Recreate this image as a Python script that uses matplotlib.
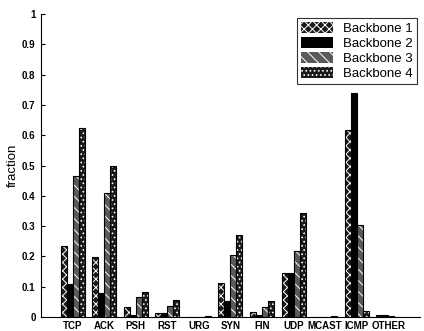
import numpy as np
import matplotlib
matplotlib.use("Agg")
import matplotlib.pyplot as plt

categories = ["TCP", "ACK", "PSH", "RST", "URG", "SYN", "FIN", "UDP", "MCAST", "ICMP", "OTHER"]
backbone1 = [0.234, 0.199, 0.034, 0.014, 0.000, 0.111, 0.016, 0.144, 0.000, 0.617, 0.008]
backbone2 = [0.108, 0.078, 0.008, 0.012, 0.000, 0.054, 0.008, 0.146, 0.000, 0.738, 0.006]
backbone3 = [0.465, 0.410, 0.065, 0.036, 0.000, 0.205, 0.034, 0.219, 0.000, 0.304, 0.002]
backbone4 = [0.625, 0.500, 0.083, 0.056, 0.003, 0.270, 0.053, 0.342, 0.002, 0.021, 0.000]
series_names = ["Backbone 1", "Backbone 2", "Backbone 3", "Backbone 4"]

plt.rcParams["font.family"] = ["Liberation Sans", "DejaVu Sans"]
plt.rcParams["hatch.linewidth"] = 0.7

fig = plt.figure(figsize=(4.24, 3.31), dpi=100)
ax = fig.add_axes([0.097, 0.042, 0.893, 0.916])

x = np.arange(1, len(categories) + 1)
w = 0.19
# dark bars with white texture, like the scanned print
hatches = ["xxxx", None, "\\\\\\", "...."]
faces = ["#1a1a1a", "black", "#5a5a5a", "#1a1a1a"]
data = [backbone1, backbone2, backbone3, backbone4]
for i, (vals, h, fc, name) in enumerate(zip(data, hatches, faces, series_names)):
    pos = x + (i - 1.5) * w
    ax.bar(pos, vals, width=w, facecolor=fc, edgecolor="white" if h else "black",
           hatch=h, linewidth=0, label=name)
    ax.bar(pos, vals, width=w, fill=False, edgecolor="black", linewidth=0.8)

ax.set_xlim(0, 12)
ax.set_ylim(0, 1)
ax.set_xticks(x)
ax.set_xticklabels(categories, fontsize=7, fontweight="bold")
ax.set_yticks(np.arange(0, 1.01, 0.1))
ax.set_yticklabels(["0"] + [f"{v:.1f}" for v in np.arange(0.1, 0.95, 0.1)] + ["1"],
                   fontsize=7, fontweight="bold")
ax.tick_params(axis="y", direction="in", length=3, pad=4)
ax.tick_params(axis="x", length=0, pad=3)
ax.spines["top"].set_visible(False)
ax.spines["right"].set_visible(False)
ax.set_ylabel("fraction", fontsize=9.5, labelpad=2)

leg = ax.legend(loc="upper right", bbox_to_anchor=(1.0, 0.995), fontsize=9.5,
                frameon=True, fancybox=False, edgecolor="black",
                handlelength=2.4, handleheight=0.9, borderpad=0.3,
                labelspacing=0.15, handletextpad=0.8, borderaxespad=0.2)
leg.get_frame().set_linewidth(0.8)

fig.savefig("out.png", dpi=100)
